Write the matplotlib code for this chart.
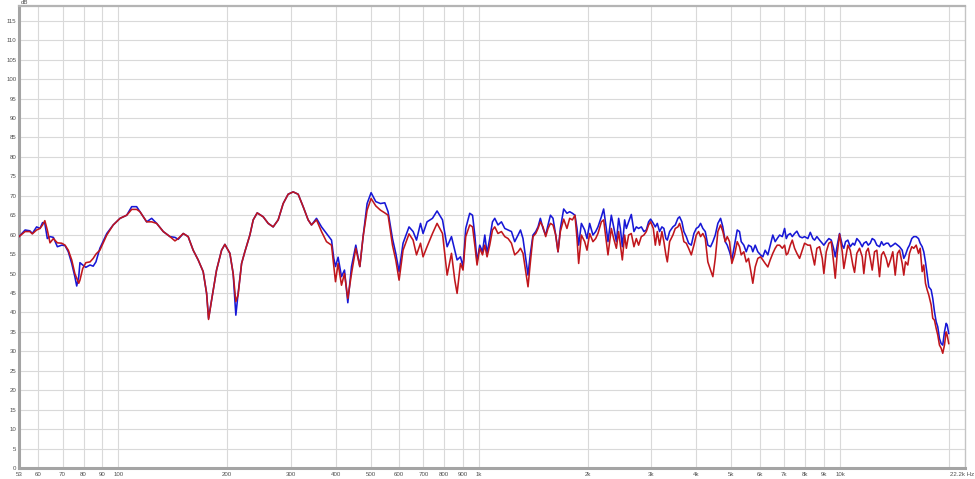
import matplotlib
matplotlib.use("Agg")
import matplotlib.pyplot as plt

# ---------------- data ----------------
freq_hz = [
    # 53 Hz - 231 Hz
    53, 55.1, 56.8, 57.7, 59.3, 60.6, 61.6, 62.5, 63.5, 64.6,
    66.0, 67.7, 69.6, 71.1, 72.6, 74.2, 75.7, 76.6, 77.6, 78.2,
    79.6, 81.2, 83.4, 85.1, 86.6, 88.8, 92.8, 96.7, 101, 105.4,
    108.8, 112.3, 114.7, 119.7, 123.6, 127.6, 133.1, 138.9, 143.4, 146.4,
    151.2, 156, 161.1, 166.3, 171.7, 175.5, 177.7, 181.2, 187, 193.1,
    197.2, 203.6, 207.9, 211.5, 214.6, 219.4, 224, 231.3,
    # 236 Hz - 917 Hz
    236.3, 242.4, 251.8, 260, 268.4, 277.1, 286.1, 295.3, 304.9, 314.8,
    325, 335.5, 342.8, 353.9, 365.4, 377.2, 389.5, 395.2, 399.5, 406.2,
    415.1, 423.1, 432.2, 442.5, 454.8, 466.6, 476.5, 488.8, 501.4, 516.6,
    532.3, 547.2, 558.8, 574.7, 586.9, 599.5, 614.8, 638.8, 655.6, 670,
    687.3, 698.6, 716.6, 741.9, 763.9, 790.9, 814.6, 837.5, 855.4, 868.1,
    886.9, 901.6, 917.3,
    # 941 Hz - 2.49 kHz
    941, 958, 972, 986, 1003, 1021, 1036, 1051, 1069, 1088,
    1104, 1127, 1152, 1177, 1202, 1228, 1254, 1281, 1301, 1322,
    1345, 1365, 1386, 1409, 1434, 1455, 1477, 1502, 1528, 1551,
    1575, 1601, 1629, 1653, 1678, 1714, 1750, 1781, 1812, 1842,
    1866, 1886, 1919, 1960, 1989, 2023, 2066, 2102, 2133, 2180,
    2212, 2250, 2274, 2323, 2358, 2399, 2434, 2461, 2492,
    # 2.53 kHz - 6.7 kHz
    2529, 2557, 2594, 2639, 2684, 2725, 2765, 2813, 2860, 2904,
    2947, 2985, 3037, 3076, 3115, 3161, 3208, 3249, 3291, 3321,
    3370, 3441, 3494, 3553, 3591, 3645, 3691, 3748, 3804, 3870,
    3935, 3995, 4054, 4106, 4166, 4231, 4301, 4376, 4441, 4510,
    4585, 4665, 4733, 4806, 4868, 4940, 5013, 5100, 5188, 5265,
    5322, 5412, 5495, 5576, 5673, 5731, 5819, 5917, 6020, 6109,
    6202, 6307, 6404, 6511, 6611, 6696,
    # 6.8 kHz - 20 kHz
    6800, 6918, 7020, 7096, 7169, 7279, 7373, 7482, 7592, 7724,
    7858, 7974, 8144, 8270, 8408, 8500, 8626, 8776, 8927, 9019,
    9158, 9312, 9455, 9595, 9699, 9823, 9969, 10142, 10246, 10358,
    10510, 10673, 10851, 10970, 11132, 11326, 11522, 11639, 11819, 11970,
    12124, 12280, 12462, 12646, 12866, 13030, 13198, 13426, 13599, 13800,
    14003, 14220, 14430, 14615, 14869, 15021, 15185, 15409, 15578, 15806,
    16010, 16257, 16498, 16677, 16891, 17064, 17250, 17438, 17617, 17889,
    18072, 18270, 18469, 18658, 18862, 19067, 19262, 19472, 19685, 19811,
    20013,
]

blue_db = [
    59.5, 61.2, 61.0, 60.3, 62.0, 61.6, 63.1, 62.9, 59.0, 59.5,
    59.3, 56.9, 57.3, 57.2, 55.6, 52.6, 49.2, 46.8, 49.2, 52.8,
    52.2, 51.6, 52.2, 51.9, 53.0, 56.5, 60.3, 62.5, 64.2, 65.0,
    67.2, 67.2, 65.9, 63.3, 64.2, 62.9, 60.8, 59.5, 59.3, 58.8,
    60.3, 59.5, 56.0, 53.5, 50.5, 44.9, 38.5, 43.2, 50.9, 56.0,
    57.5, 55.2, 50.0, 39.3, 44.9, 52.6, 55.6, 59.9,
    63.8, 65.6, 64.6, 62.9, 62.0, 63.8, 68.0, 70.4, 71.0, 70.4,
    67.2, 63.8, 62.5, 64.2, 62.0, 60.3, 58.6, 53.9, 51.8, 54.2,
    49.2, 50.9, 42.5, 51.8, 57.3, 51.8, 59.5, 68.0, 70.8, 68.5,
    68.0, 68.2, 65.9, 59.0, 55.2, 50.5, 57.8, 62.0, 60.8, 58.6,
    62.9, 60.3, 63.3, 64.2, 66.1, 63.8, 56.9, 59.5, 56.0, 53.5,
    54.3, 51.8, 61.6,
    65.5, 65.0, 59.9, 53.0, 57.3, 55.6, 59.9, 55.2, 59.0, 63.3,
    64.2, 62.5, 63.3, 61.6, 61.2, 60.8, 58.2, 59.9, 61.2, 59.0,
    53.9, 49.6, 55.2, 59.9, 60.8, 62.0, 64.2, 61.6, 59.9, 62.5,
    65.0, 64.2, 59.9, 55.6, 61.6, 66.6, 65.5, 65.9, 65.5, 65.0,
    61.6, 57.3, 62.9, 61.2, 59.0, 62.9, 59.9, 60.8, 62.0, 64.6,
    66.6, 61.6, 58.2, 65.0, 62.0, 58.2, 64.2, 61.6, 56.9,
    63.8, 61.6, 63.3, 65.2, 60.8, 62.0, 61.6, 62.0, 60.8, 61.2,
    63.3, 64.0, 62.9, 62.0, 62.9, 60.8, 62.0, 61.6, 59.0, 58.6,
    60.8, 62.0, 62.5, 64.2, 64.6, 63.3, 60.8, 59.5, 57.8, 57.3,
    60.3, 61.6, 62.0, 62.9, 61.6, 60.8, 57.3, 56.9, 58.2, 59.9,
    62.9, 64.2, 62.0, 58.2, 57.3, 55.6, 53.5, 57.3, 61.2, 60.8,
    58.2, 57.3, 55.6, 57.3, 56.9, 55.6, 57.3, 55.6, 54.8, 54.3,
    56.0, 54.8, 57.3, 59.9, 58.2, 59.0,
    59.9, 59.5, 61.6, 59.0, 59.9, 60.3, 59.5, 60.3, 60.9, 59.5,
    59.2, 59.5, 59.0, 60.6, 59.0, 58.6, 59.5, 58.6, 57.8, 57.3,
    58.2, 59.0, 58.6, 56.5, 54.3, 57.3, 60.3, 57.3, 56.5, 58.2,
    58.6, 56.9, 57.8, 57.3, 59.0, 58.2, 56.9, 57.8, 58.2, 57.3,
    57.8, 59.0, 58.6, 57.3, 56.9, 58.2, 57.3, 57.8, 57.8, 56.9,
    57.3, 57.8, 57.3, 56.9, 56.0, 53.9, 54.8, 56.5, 57.3, 59.0,
    59.5, 59.5, 59.0, 57.8, 56.9, 55.6, 53.0, 49.6, 46.6, 45.8,
    43.6, 40.2, 37.6, 36.3, 33.3, 32.0, 31.6, 35.0, 37.2, 36.8,
    34.6,
]

red_db = [
    59.5, 60.8, 60.8, 60.2, 61.2, 61.6, 62.5, 63.6, 61.2, 57.9,
    59.0, 57.9, 57.8, 57.3, 56.0, 53.5, 50.0, 48.8, 47.5, 48.3,
    51.3, 52.8, 53.0, 53.9, 55.0, 56.0, 59.9, 62.5, 64.2, 65.0,
    66.5, 66.5, 65.9, 63.3, 63.3, 62.9, 60.8, 59.5, 58.4, 59.0,
    60.3, 59.5, 56.0, 53.5, 50.5, 44.9, 38.2, 43.2, 50.9, 56.0,
    57.5, 55.2, 50.0, 42.8, 44.5, 52.6, 55.6, 59.9,
    63.8, 65.6, 64.6, 62.9, 62.0, 63.8, 68.0, 70.4, 71.0, 70.4,
    67.2, 63.8, 62.5, 63.8, 60.8, 58.2, 57.3, 51.8, 47.9, 52.6,
    47.0, 50.0, 43.6, 50.0, 56.5, 51.8, 59.5, 66.3, 69.3, 67.4,
    66.3, 65.6, 65.0, 57.3, 53.5, 48.3, 56.0, 60.2, 58.6, 54.8,
    57.8, 54.3, 56.9, 60.3, 62.9, 60.3, 49.6, 55.2, 48.3, 44.9,
    52.6, 50.9, 59.5,
    62.5, 62.0, 57.3, 52.2, 56.5, 54.8, 57.3, 54.3, 57.3, 61.2,
    62.0, 60.3, 60.8, 59.5, 59.0, 57.8, 54.8, 55.6, 56.5, 55.2,
    50.5, 46.6, 53.0, 59.5, 60.3, 61.6, 63.3, 62.0, 59.5, 61.6,
    62.9, 62.5, 59.9, 55.6, 60.8, 64.0, 61.6, 64.2, 63.8, 65.0,
    59.0, 52.6, 59.9, 58.2, 56.0, 60.3, 58.2, 59.0, 60.3, 63.3,
    63.8, 58.2, 54.8, 61.6, 59.0, 56.5, 60.8, 57.3, 53.5,
    59.9, 56.5, 59.9, 60.3, 56.9, 59.0, 57.3, 59.5, 59.9, 60.8,
    62.5, 63.3, 61.6, 57.3, 60.8, 57.3, 60.8, 58.2, 54.8, 53.0,
    58.2, 59.9, 61.6, 62.0, 62.9, 60.8, 58.2, 57.8, 56.5, 54.8,
    57.3, 59.9, 60.8, 59.5, 60.3, 59.0, 53.0, 50.9, 49.2, 53.9,
    60.8, 62.5, 60.8, 58.2, 59.5, 58.2, 52.6, 54.8, 58.2, 56.9,
    54.8, 55.6, 53.0, 53.9, 50.0, 47.5, 51.7, 53.9, 54.3, 53.5,
    52.6, 51.7, 53.5, 55.2, 56.5, 57.3,
    57.3, 56.5, 57.3, 54.8, 55.2, 57.3, 58.6, 56.5, 55.2, 53.9,
    56.0, 57.8, 57.3, 57.3, 54.3, 52.2, 56.5, 56.9, 53.9, 50.0,
    55.6, 57.8, 58.2, 53.0, 48.8, 55.2, 60.1, 55.6, 51.3, 53.9,
    57.3, 56.0, 52.2, 50.3, 55.2, 56.5, 54.3, 50.0, 55.6, 56.5,
    53.9, 50.9, 55.6, 56.0, 49.2, 54.8, 55.6, 53.9, 51.7, 53.5,
    55.6, 49.6, 55.2, 56.0, 52.6, 49.6, 53.0, 52.2, 55.2, 56.9,
    56.5, 57.3, 55.2, 56.5, 50.5, 52.2, 47.5, 45.8, 44.5, 41.9,
    38.5, 38.0, 35.9, 34.2, 31.6, 30.8, 29.5, 31.6, 35.0, 34.2,
    32.0,
]

x_label_values = [53, 60, 70, 80, 90, 100, 200, 300, 400, 500, 600, 700,
                  800, 900, 1000, 2000, 3000, 4000, 5000, 6000, 7000, 8000,
                  9000, 10000]
x_label_texts = ["53", "60", "70", "80", "90", "100", "200", "300", "400",
                 "500", "600", "700", "800", "900", "1k", "2k", "3k", "4k",
                 "5k", "6k", "7k", "8k", "9k", "10k"]
x_grid_values = [60, 70, 80, 90, 100, 200, 300, 400, 500, 600, 700, 800, 900,
                 1000, 2000, 3000, 4000, 5000, 6000, 7000, 8000, 9000, 10000,
                 20000]
y_label_values = list(range(0, 120, 5))

# ---------------- figure ----------------
W, H = 975, 479
fig = plt.figure(figsize=(W / 100, H / 100), dpi=100)
fig.patch.set_facecolor("white")
L, R, T, B = 19, 965, 6, 468
ax = fig.add_axes([L / W, (H - B) / H, (R - L) / W, (B - T) / H])
ax.set_xscale("log")
ax.set_xlim(53, 22200)
ax.set_ylim(0, 118.8)

grid_col = "#d9d9d9"
for gx in x_grid_values:
    ax.axvline(gx, color=grid_col, lw=0.8, zorder=1)
for gy in y_label_values[1:]:
    ax.axhline(gy, color=grid_col, lw=0.8, zorder=1)

ax.plot(freq_hz, blue_db, color="#1717d6", lw=1.15, zorder=3,
        solid_joinstyle="round")
ax.plot(freq_hz, red_db, color="#c0161c", lw=1.15, zorder=4,
        solid_joinstyle="round")

font = dict(family=["Liberation Sans", "DejaVu Sans"], size=4.4,
            color="#505050")
ax.set_xticks(x_label_values)
ax.set_xticklabels(x_label_texts, fontdict=font)
ax.xaxis.set_minor_locator(matplotlib.ticker.NullLocator())
ax.set_yticks(y_label_values)
ax.set_yticklabels([str(v) for v in y_label_values], fontdict=font)
ax.tick_params(axis="x", length=0, pad=2.6)
ax.tick_params(axis="y", length=0, pad=1.8)

for side, (c, w) in {"left": ("#a4a4a4", 2.2), "bottom": ("#a4a4a4", 2.2),
                     "top": ("#b4b4b4", 1.6), "right": ("#c4c4c4", 1.0)}.items():
    ax.spines[side].set_color(c)
    ax.spines[side].set_linewidth(w)

fig.text(974 / W, 1 - 474.3 / H, "22.2k Hz", ha="right", va="center", **font)
fig.text(20.5 / W, 1 - 2.6 / H, "dB", ha="left", va="center", **font)

fig.savefig("out.png", dpi=100, facecolor="white")
